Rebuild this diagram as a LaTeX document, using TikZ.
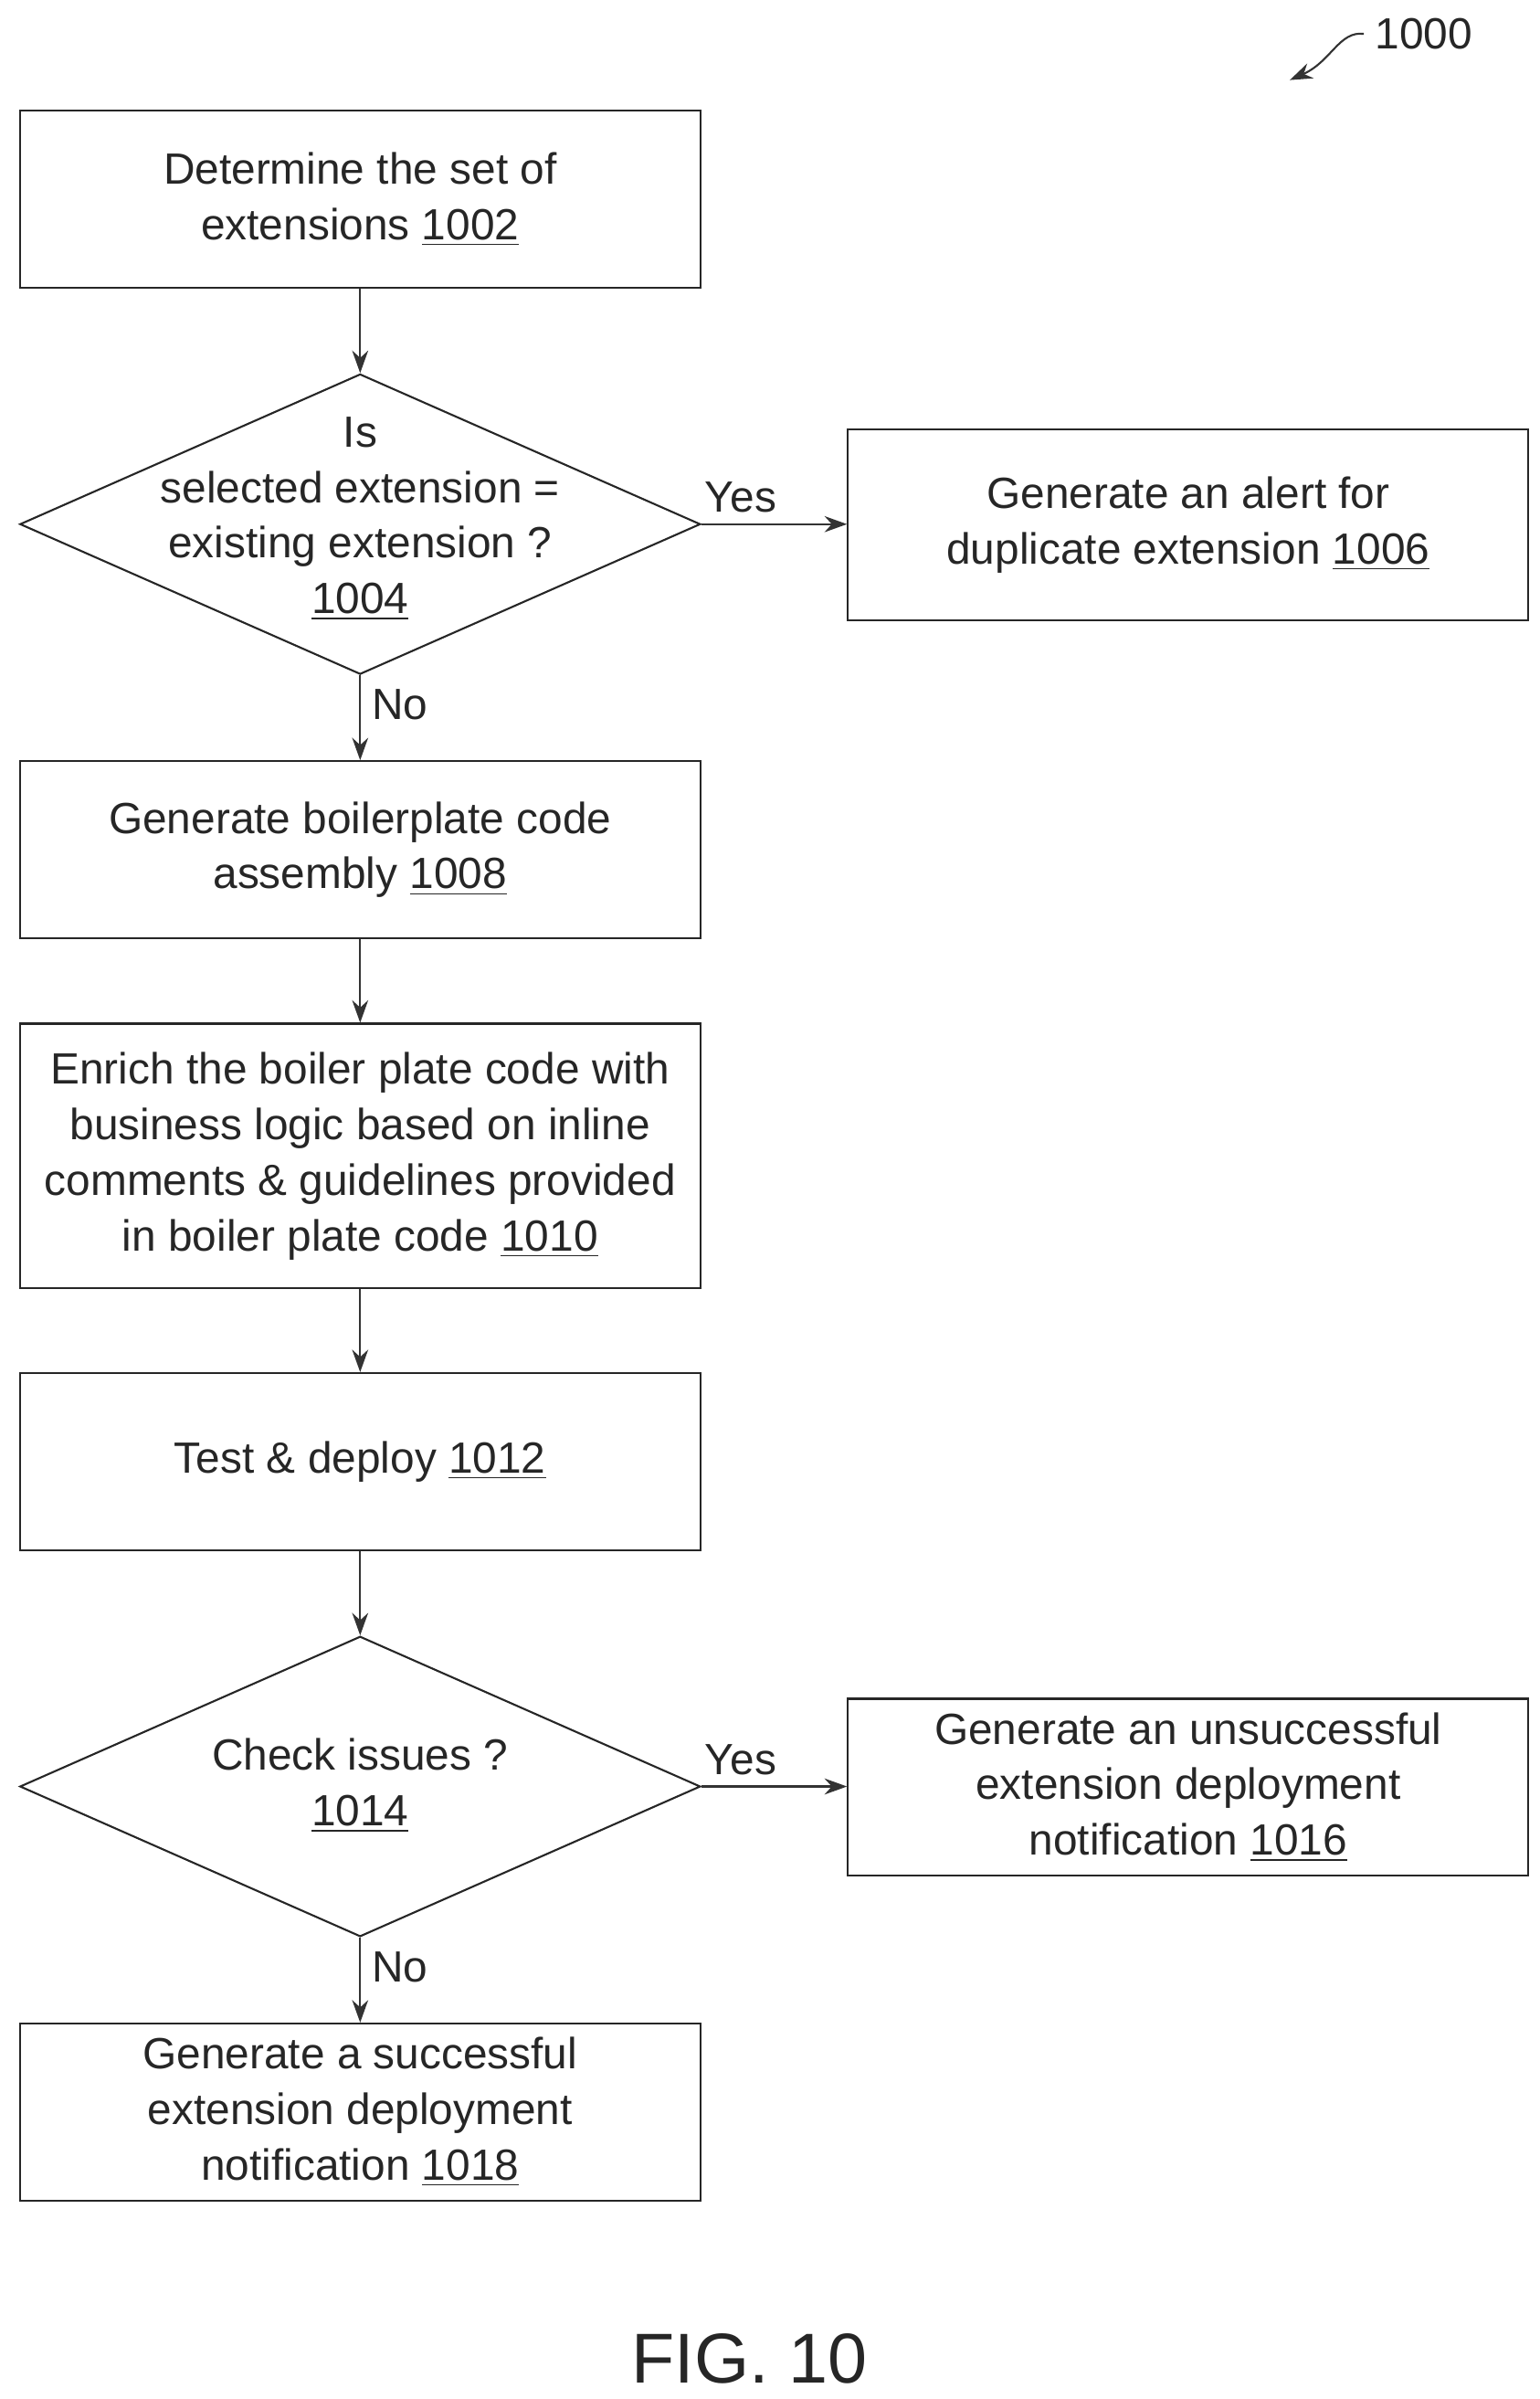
\documentclass[tikz,border=0pt]{standalone}
\usepackage{fontspec}
\setmainfont{Liberation Sans}
\usetikzlibrary{shapes.geometric,arrows.meta}
\begin{document}
\begin{tikzpicture}[x=0.01685cm,y=-0.01685cm,
  box/.style={draw,line width=0.6pt,minimum width=7.448cm,align=center,inner sep=2pt,font=\fontsize{13.6}{17.3}\selectfont,color=black!85},
  dia/.style={draw,line width=0.6pt,diamond,minimum width=7.448cm,minimum height=3.286cm,inner sep=0pt,color=black!85},
  txt/.style={align=center,font=\fontsize{13.6}{17.3}\selectfont,color=black!85},
  arr/.style={-{Stealth[length=7pt,width=5pt]},line width=0.6pt,color=black!80}]
\useasboundingbox (0,0) rectangle (1000,1558.4);
\node[box,minimum height=1.938cm] (b1002) at (234,129.5) {Determine the set of\\extensions \underline{1002}};
\node[dia] (d1004) at (234,340.5) {};
\node[txt] (t1004) at (234,337) {Is\\selected extension =\\existing extension ?\\\underline{1004}};
\node[box,minimum height=2.089cm] (b1006) at (772,341) {Generate an alert for\\duplicate extension \underline{1006}};
\node[box,minimum height=1.938cm] (b1008) at (234,552) {Generate boilerplate code\\assembly \underline{1008}};
\node[box,minimum height=2.898cm] (b1010) at (234,751) {Enrich the boiler plate code with\\business logic based on inline\\comments \& guidelines provided\\in boiler plate code \underline{1010}};
\node[box,minimum height=1.938cm] (b1012) at (234,949.5) {Test \& deploy \underline{1012}};
\node[dia] (d1014) at (234,1160.5) {};
\node[txt] (t1014) at (234,1160) {Check issues ?\\\underline{1014}};
\node[box,minimum height=1.938cm] (b1016) at (772,1161) {Generate an unsuccessful\\extension deployment\\notification \underline{1016}};
\node[box,minimum height=1.938cm] (b1018) at (234,1372) {Generate a successful\\extension deployment\\notification \underline{1018}};
\draw[arr] (b1002) -- (d1004);
\draw[arr] (d1004.east) -- node[txt,above,pos=0.27] {Yes} (b1006.west|-d1004.east);
\draw[arr] (d1004) -- node[txt,right,pos=0.35] {No} (b1008);
\draw[arr] (b1008) -- (b1010);
\draw[arr] (b1010) -- (b1012);
\draw[arr] (b1012) -- (d1014);
\draw[arr] (d1014.east) -- node[txt,above,pos=0.27] {Yes} (b1016.west|-d1014.east);
\draw[arr] (d1014) -- node[txt,right,pos=0.35] {No} (b1018);
\node[txt,font=\fontsize{22}{26}\selectfont] (fig) at (487,1532) {FIG. 10};
\node[txt] (n1000) at (925,22) {1000};
\coordinate (a1000) at (838,52);
\draw[arr] (n1000.west) .. controls (870,20) and (865,40) .. (a1000);
\end{tikzpicture}
\end{document}
